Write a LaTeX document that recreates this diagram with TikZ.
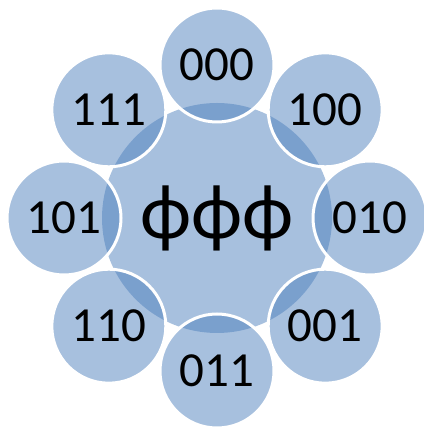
\documentclass[tikz,border=0pt]{standalone}
\usepackage{fontspec}
\setmainfont{Carlito}
\usetikzlibrary{calc}
\begin{document}
\begin{tikzpicture}[x=1pt,y=1pt,
  bubble/.style={circle, fill={rgb,255:red,79;green,129;blue,189}, fill opacity=0.5, text opacity=1, draw=white, line width=3pt, inner sep=0pt},
  sat/.style={bubble, minimum size=114pt, font=\fontsize{49}{52}\selectfont},
  hub/.style={bubble, draw=none, minimum size=230pt, font=\fontsize{78}{80}\selectfont}]
\useasboundingbox (0,0) rectangle (423,430);
\node[hub] (c) at (217,212) {ϕϕϕ};
\foreach \lab/\ang in {000/90,100/45,010/0,001/-45,011/-90,110/-135,101/180,111/135}{
  \node[sat] (s\lab) at ($(c.center)+(\ang:153)$) {\lab};
}
\end{tikzpicture}
\end{document}
